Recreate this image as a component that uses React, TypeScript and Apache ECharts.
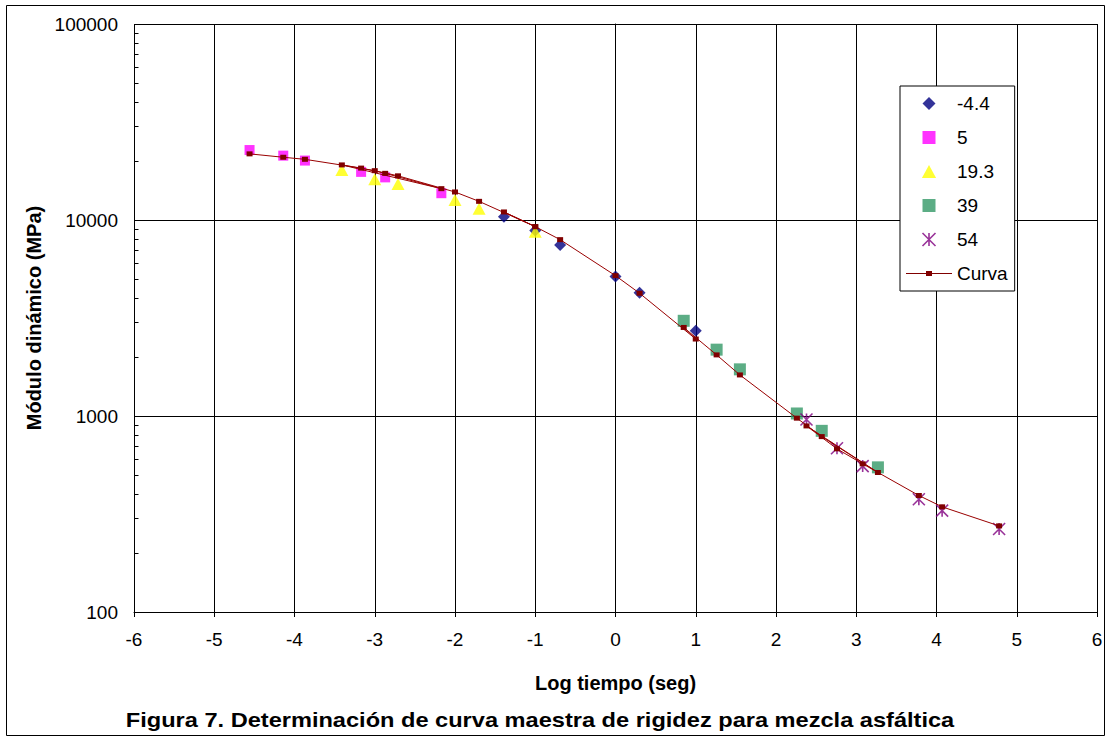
import React, { useEffect, useRef } from "react";
import * as echarts from "echarts";

// Log tiempo (seg) per temperature group
const xNeg44 = [-1.39, -1.0, -0.69, 0.0, 0.3, 1.0];
const yNeg44 = [10400, 8850, 7450, 5150, 4250, 2720];
const cNeg44 = [10990, 9250, 7940, 5200, 4230, 2470];

const x5 = [-4.56, -4.14, -3.87, -3.17, -2.87, -2.17];
const y5 = [22750, 21300, 20100, 17600, 16500, 13700];
const c5 = [21750, 20900, 20400, 18400, 17300, 14450];

const x193 = [-3.41, -3.0, -2.71, -2.0, -1.7, -1.0];
const y193 = [18000, 16150, 15250, 12650, 11400, 8700];
const c193 = [19100, 17850, 16800, 13900, 12450, 9250];

const x39 = [0.85, 1.26, 1.55, 2.26, 2.57, 3.27];
const y39 = [3060, 2180, 1730, 1030, 840, 547];
const c39 = [2830, 2050, 1620, 975, 785, 515];

const x54 = [2.38, 2.76, 3.08, 3.78, 4.07, 4.78];
const y54 = [960, 685, 555, 376, 329, 265];
const c54 = [890, 680, 570, 393, 344, 275];

const seriesNames = ["-4.4", "5", "19.3", "39", "54", "Curva"];
const xAxisTitle = "Log tiempo (seg)";
const yAxisTitle = "Módulo dinámico (MPa)";
const figureTitle = "Figura 7. Determinación de curva maestra de rigidez para mezcla asfáltica";

const FONT = "'Liberation Sans', Arial, sans-serif";
const STAR = "path://M0,0L10,10M10,0L0,10M5,0L5,10";
const CURVA_ICON = "path://M0,5.4h46v1.2H0z M20,3.5h6v5h-6z";
const DIAMOND_ICON = "path://M6,0L12,6L6,12L0,6Z";
const SQUARE_ICON = "path://M0,0H10V10H0Z";
const TRIANGLE_ICON = "path://M6,0L12,11H0Z";

function pair(xs: number[], ys: number[]) {
  return xs.map((x, i) => [x, ys[i]]);
}

export default function App() {
  const ref = useRef<HTMLDivElement>(null);

  useEffect(() => {
    const chart = echarts.init(ref.current!, null, { renderer: "svg" });

    const curveData = [
      ...pair(x5, c5),
      ...pair(x193, c193),
      ...pair(xNeg44, cNeg44),
      ...pair(x39, c39),
      ...pair(x54, c54),
    ];

    const baseGraphics: any[] = [
      {
        type: "rect",
        shape: { x: 6.5, y: 5.5, width: 1098, height: 730 },
        style: { fill: "none", stroke: "#000", lineWidth: 1 },
        silent: true,
        z: 100,
      },
      {
        type: "text",
        x: 540,
        y: 720,
        scaleX: 1.18,
        style: {
          text: figureTitle,
          fontFamily: FONT,
          fontSize: 20,
          fontWeight: "bold",
          fill: "#000",
          align: "center",
          verticalAlign: "middle",
          textAlign: "center",
          textVerticalAlign: "middle",
        },
      },
    ];

    const option: any = {
      animation: false,
      backgroundColor: "#fff",
      grid: { left: 134, right: 15, top: 24, bottom: 132, show: false },
      xAxis: {
        type: "value",
        min: -6,
        max: 6,
        interval: 1,
        axisLine: { onZero: false, lineStyle: { color: "#000", width: 1 } },
        axisTick: { show: true, length: 5, lineStyle: { color: "#000" } },
        axisLabel: { fontFamily: FONT, fontSize: 19, color: "#000", margin: 18 },
        splitLine: { show: true, lineStyle: { color: "#000", width: 1 } },
        name: xAxisTitle,
        nameLocation: "middle",
        nameGap: 61,
        nameTextStyle: { fontFamily: FONT, fontWeight: "bold", fontSize: 20, color: "#000" },
      },
      yAxis: {
        type: "log",
        logBase: 10,
        min: 100,
        max: 100000,
        axisLine: { show: true, lineStyle: { color: "#000", width: 1 } },
        axisTick: { show: true, length: 6, lineStyle: { color: "#000" } },
        axisLabel: {
          fontFamily: FONT,
          fontSize: 19,
          color: "#000",
          margin: 16,
          formatter: (v: number) => String(Math.round(v)),
        },
        splitLine: { show: true, lineStyle: { color: "#000", width: 1 } },
        name: yAxisTitle,
        nameLocation: "middle",
        nameGap: 89,
        nameTextStyle: { fontFamily: FONT, fontWeight: "bold", fontSize: 20, color: "#000" },
      },
      legend: {
        orient: "vertical",
        left: 900,
        top: 86,
        padding: [8, 7, 8, 6],
        itemWidth: 46,
        itemHeight: 13,
        itemGap: 15,
        symbolKeepAspect: true,
        backgroundColor: "#fff",
        borderColor: "#000",
        borderWidth: 1,
        textStyle: { fontFamily: FONT, fontSize: 19, color: "#000", lineHeight: 19 },
        data: [
          { name: seriesNames[0], icon: DIAMOND_ICON },
          { name: seriesNames[1], icon: SQUARE_ICON },
          { name: seriesNames[2], icon: TRIANGLE_ICON },
          { name: seriesNames[3], icon: SQUARE_ICON },
          {
            name: seriesNames[4],
            itemStyle: { color: "rgba(128,0,128,0)", borderColor: "#800080", borderWidth: 1.6 },
          },
          { name: seriesNames[5], icon: CURVA_ICON },
        ],
      },
      series: [
        {
          name: seriesNames[0],
          type: "scatter",
          symbol: "diamond",
          symbolSize: 12,
          itemStyle: { color: "#000080" },
          data: pair(xNeg44, yNeg44),
        },
        {
          name: seriesNames[1],
          type: "scatter",
          symbol: "rect",
          symbolSize: 10,
          itemStyle: { color: "#FF00FF" },
          data: pair(x5, y5),
        },
        {
          name: seriesNames[2],
          type: "scatter",
          symbol: "triangle",
          symbolSize: [13, 12],
          itemStyle: { color: "#FFFF00" },
          data: pair(x193, y193),
        },
        {
          name: seriesNames[3],
          type: "scatter",
          symbol: "rect",
          symbolSize: 12,
          itemStyle: { color: "#339966" },
          data: pair(x39, y39),
        },
        {
          name: seriesNames[4],
          type: "scatter",
          symbol: STAR,
          symbolSize: 12,
          itemStyle: { color: "rgba(128,0,128,0)", borderColor: "#800080", borderWidth: 1.6 },
          data: pair(x54, y54),
        },
        {
          name: seriesNames[5],
          type: "line",
          symbol: "rect",
          symbolSize: [6, 5],
          showSymbol: true,
          lineStyle: { color: "#990000", width: 1 },
          itemStyle: { color: "#800000" },
          data: curveData,
        },
      ],
      graphic: baseGraphics,
    };

    chart.setOption(option);

    // minor log ticks on the y axis (inside)
    const minors: number[] = [];
    for (let d = 100; d < 100000; d *= 10) {
      for (let k = 2; k <= 9; k++) minors.push(d * k);
    }
    const x0 = chart.convertToPixel({ xAxisIndex: 0 }, -6) as number;
    const tickLines = minors.map((v) => {
      const y = Math.round(chart.convertToPixel({ yAxisIndex: 0 }, v) as number) + 0.5;
      const xa = Math.round(x0) + 0.5;
      return {
        type: "line",
        shape: { x1: xa, y1: y, x2: xa + 4, y2: y },
        style: { stroke: "#000", lineWidth: 1 },
        silent: true,
        z: 50,
      };
    });
    chart.setOption({ graphic: [...baseGraphics, ...tickLines] });

    return () => chart.dispose();
  }, []);

  return (
    <div
      ref={ref}
      style={{ position: "absolute", left: 0, top: 0, width: 1112, height: 744 }}
    />
  );
}
